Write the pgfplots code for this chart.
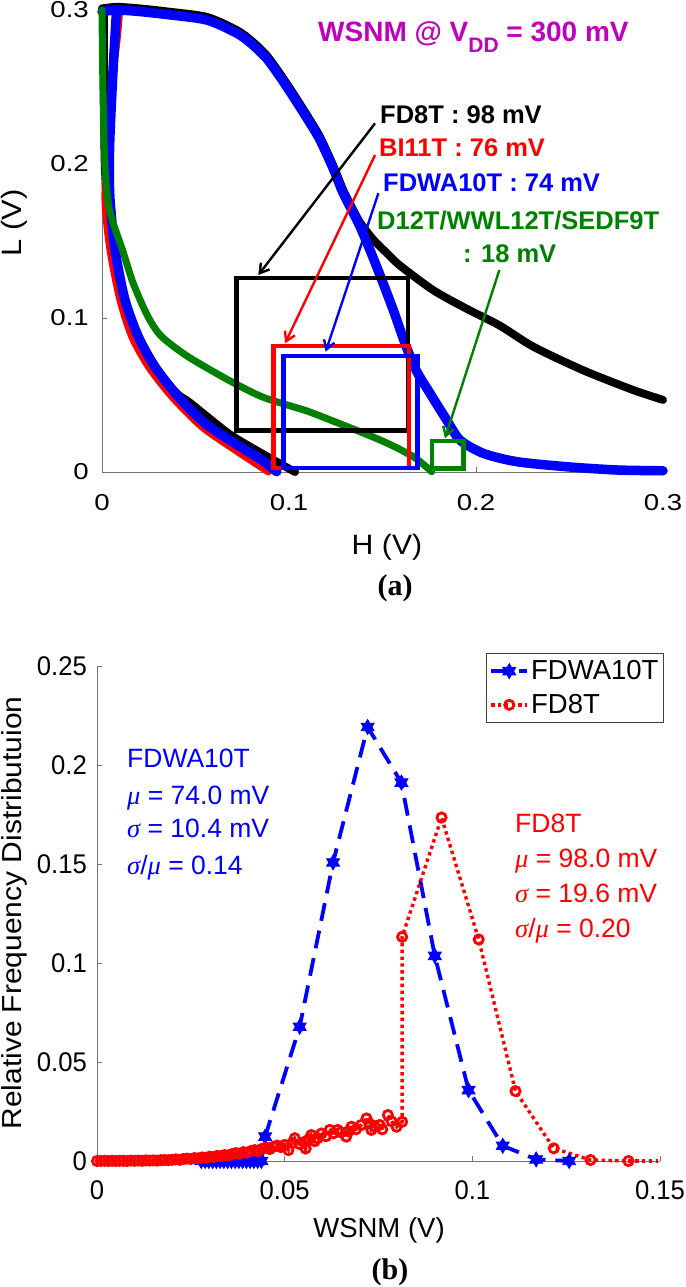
\documentclass[border=0pt]{standalone}
\usepackage{fontspec}
\setmainfont{Liberation Sans}
\newfontfamily\timesfont{Liberation Serif}
\usepackage{graphicx}
\usepackage{pgfplots}
\pgfplotsset{compat=1.18}
\usetikzlibrary{arrows.meta}

\definecolor{mgreen}{rgb}{0,0.5,0}
\definecolor{mmag}{rgb}{0.75,0,0.75}
\definecolor{axgray}{gray}{0.45}
\newcommand{\fs}[1]{\fontsize{#1}{#1}\selectfont}
\newcommand{\gk}[1]{{\timesfont\itshape #1}}

\pgfdeclareplotmark{hexagram}{%
  \pgfpathmoveto{\pgfpointpolar{90}{\pgfplotmarksize}}%
  \pgfpathlineto{\pgfpointpolar{210}{\pgfplotmarksize}}%
  \pgfpathlineto{\pgfpointpolar{330}{\pgfplotmarksize}}%
  \pgfpathclose
  \pgfpathmoveto{\pgfpointpolar{270}{\pgfplotmarksize}}%
  \pgfpathlineto{\pgfpointpolar{30}{\pgfplotmarksize}}%
  \pgfpathlineto{\pgfpointpolar{150}{\pgfplotmarksize}}%
  \pgfpathclose
  \pgfusepathqfillstroke
}

\begin{document}
\begin{tikzpicture}
\useasboundingbox (0pt,0pt) rectangle (685pt,1287pt);

% ---------------- (a) ----------------
\begin{axis}[
  at={(102pt,815pt)}, anchor=south west, scale only axis,
  width=561pt, height=462pt,
  xmin=0, xmax=0.3, ymin=0, ymax=0.3,
  axis x line*=bottom, axis y line*=left,
  axis line style={axgray, line width=0.9pt},
  tick align=inside, major tick length=5pt,
  tick style={axgray, line width=0.9pt},
  xtick={0,0.1,0.2,0.3}, ytick={0,0.1,0.2,0.3},
  scaled ticks=false,
  /pgf/number format/fixed, /pgf/number format/precision=2,
  /pgf/number format/assume math mode=true,
  ticklabel style={font=\fs{23}, inner sep=0pt},
  xticklabel={\scalebox{1.2}[1]{\pgfmathprintnumber{\tick}}},
  yticklabel={\scalebox{1.2}[1]{\pgfmathprintnumber{\tick}}},
  xticklabel style={anchor=north, yshift=-22pt},
  yticklabel style={anchor=east, xshift=-13pt},
  clip=false,
  every axis plot/.append style={line join=round, line cap=round},
]
% black FD8T
\addplot[black, line width=8pt, smooth, tension=0.45] coordinates {
(0.000,0.301) (0.008,0.302) (0.020,0.301) (0.035,0.299) (0.056,0.2955) (0.072,0.287)
(0.080,0.280) (0.088,0.2706) (0.095,0.259) (0.1023,0.2457) (0.110,0.231) (0.1166,0.2176)
(0.124,0.198) (0.129,0.183) (0.134,0.171) (0.138,0.162) (0.145,0.151) (0.152,0.1425)
(0.1594,0.134) (0.1772,0.118) (0.195,0.106) (0.2128,0.095) (0.2306,0.0814)
(0.2574,0.066) (0.2841,0.0532) (0.300,0.0468)};
\addplot[black, line width=8pt, smooth, tension=0.45] coordinates {
(0.001,0.300) (0.001,0.25) (0.0015,0.20) (0.003,0.17) (0.006,0.14) (0.011,0.11)
(0.018,0.088) (0.028,0.068) (0.040,0.051) (0.047,0.045) (0.0676,0.0251) (0.0854,0.0121) (0.1032,0.0)};
% red BI11T
\addplot[red, line width=7pt, smooth, tension=0.45] coordinates {
(0.0095,0.300) (0.008,0.28) (0.005,0.25) (0.003,0.22) (0.0016,0.1766) (0.0043,0.144)
(0.0096,0.1117) (0.0159,0.0879) (0.0248,0.0684) (0.0373,0.0489) (0.0533,0.0294)
(0.0711,0.0143) (0.089,0.0)};
% blue FDWA10T
\addplot[blue, line width=9.5pt, smooth, tension=0.45] coordinates {
(0.000,0.299) (0.008,0.300) (0.020,0.299) (0.035,0.297) (0.056,0.2935) (0.072,0.285)
(0.080,0.278) (0.088,0.2686) (0.095,0.257) (0.1023,0.2437) (0.110,0.229) (0.1166,0.2156)
(0.124,0.196) (0.129,0.181) (0.138,0.1593) (0.1469,0.1333) (0.1558,0.105) (0.162,0.0836)
(0.168,0.066) (0.1754,0.0511) (0.1843,0.0338) (0.1914,0.0208) (0.2039,0.0121)
(0.2218,0.0067) (0.2485,0.0034) (0.2752,0.0013) (0.300,0.0008)};
\addplot[blue, line width=9.5pt, smooth, tension=0.45] coordinates {
(0.0078,0.300) (0.006,0.263) (0.0043,0.22) (0.0039,0.198) (0.0043,0.1766) (0.007,0.144)
(0.0123,0.1117) (0.0194,0.0879) (0.0283,0.0684) (0.0408,0.0489) (0.0551,0.0316)
(0.0711,0.0186) (0.0854,0.0078) (0.0934,0.0002)};
% green D12T/WWL12T/SEDF9T
\addplot[mgreen, line width=7pt, smooth, tension=0.45] coordinates {
(0.000,0.300) (0.0005,0.25) (0.0015,0.20) (0.004,0.17) (0.011,0.144) (0.0167,0.1225)
(0.0246,0.1008) (0.0319,0.0879) (0.046,0.0749) (0.0676,0.0597) (0.0854,0.0489)
(0.1032,0.042) (0.113,0.0381) (0.1487,0.0208) (0.1665,0.0099) (0.1763,0.0002)};
% boxes
\addplot[black, line width=4.5pt, line join=miter, line cap=butt] coordinates {(0.072,0.027) (0.1636,0.027) (0.1636,0.126) (0.072,0.126) (0.072,0.027)} -- cycle;
\addplot[red, line width=4.5pt, line join=miter, line cap=butt] coordinates {(0.0916,0.0026) (0.1643,0.0026) (0.1643,0.0818) (0.0916,0.0818) (0.0916,0.0026)} -- cycle;
\addplot[blue, line width=4.5pt, line join=miter, line cap=butt] coordinates {(0.097,0.0026) (0.1686,0.0026) (0.1686,0.0753) (0.097,0.0753) (0.097,0.0026)} -- cycle;
\addplot[mgreen, line width=4.5pt, line join=miter, line cap=butt] coordinates {(0.1766,0.0024) (0.1932,0.0024) (0.1932,0.020) (0.1766,0.020) (0.1766,0.0024)} -- cycle;
% arrows
\addplot[black, line width=2.4pt, line cap=butt, -{Straight Barb[length=9pt,width=11pt]}] coordinates {(0.146,0.2264) (0.0836,0.1279)};
\addplot[red, line width=2.4pt, line cap=butt, -{Straight Barb[length=9pt,width=11pt]}] coordinates {(0.146,0.2058) (0.0979,0.0836)};
\addplot[blue, line width=2.4pt, line cap=butt, -{Straight Barb[length=9pt,width=11pt]}] coordinates {(0.1478,0.181) (0.1196,0.0781)};
\addplot[mgreen, line width=2.4pt, line cap=butt, -{Straight Barb[length=9pt,width=11pt]}] coordinates {(0.2125,0.1312) (0.1834,0.0219)};
\end{axis}

% texts (a)
\node[anchor=base west, inner sep=0pt, text=mmag, font=\bfseries\fs{28}] at (318pt,1245pt) {WSNM @ V\raisebox{-11pt}{\fs{21}DD} = 300 mV};
\node[anchor=base west, inner sep=0pt, text=black, font=\bfseries\fs{25.5}] at (380pt,1163pt) {FD8T : 98 mV};
\node[anchor=base west, inner sep=0pt, text=red, font=\bfseries\fs{25.5}] at (379pt,1130pt) {BI11T : 76 mV};
\node[anchor=base west, inner sep=0pt, text=blue, font=\bfseries\fs{25.5}] at (383pt,1095pt) {FDWA10T : 74 mV};
\node[anchor=base west, inner sep=0pt, text=mgreen, font=\bfseries\fs{25.5}] at (377pt,1057pt) {D12T/WWL12T/SEDF9T};
\node[anchor=base west, inner sep=0pt, text=mgreen, font=\bfseries\fs{25.5}] at (463pt,1024pt) {: 18 mV};
\node[inner sep=0pt, font=\fs{28}] at (387pt,740pt) {\scalebox{1.08}[1]{H (V)}};
\node[inner sep=0pt, font=\fs{28}, rotate=90] at (14pt,1064pt) {\scalebox{1.1}[1]{L (V)}};
\node[inner sep=0pt, font=\timesfont\bfseries\fs{30}] at (395pt,699pt) {(a)};

% ---------------- (b) ----------------
\begin{axis}[
  at={(97pt,126pt)}, anchor=south west, scale only axis,
  width=563pt, height=495pt,
  xmin=0, xmax=0.15, ymin=0, ymax=0.25,
  axis x line*=bottom, axis y line*=left,
  axis line style={axgray, line width=0.9pt},
  tick align=inside, major tick length=5pt,
  tick style={axgray, line width=0.9pt},
  xtick={0,0.05,0.1,0.15}, ytick={0,0.05,0.1,0.15,0.2,0.25},
  scaled ticks=false,
  /pgf/number format/fixed, /pgf/number format/precision=2,
  /pgf/number format/assume math mode=true,
  ticklabel style={font=\fs{27}, inner sep=0pt},
  xticklabel={\scalebox{0.95}[1]{\pgfmathprintnumber{\tick}}},
  yticklabel={\scalebox{0.95}[1]{\pgfmathprintnumber{\tick}}},
  xticklabel style={anchor=north, yshift=-19pt},
  yticklabel style={anchor=east, xshift=-10pt},
  clip=false,
  legend style={at={(1.007,1.0256)}, anchor=north east, draw=black!75, line width=0.9pt,
    font=\fs{27.5}, inner xsep=3pt, inner ysep=5pt, row sep=9pt, cells={anchor=west}},
  legend cell align=left,
  legend image code/.code={\draw[#1, mark repeat=2, mark phase=2] plot coordinates {(0pt,0pt) (18pt,0pt) (36pt,0pt)};},
]
\addplot[blue, line width=3.8pt, dash pattern=on 18pt off 10pt, mark=hexagram, mark size=7.5pt,
  mark options={solid, fill=blue, line width=0.8pt}] coordinates {
(0.0278,0) (0.0288,0) (0.0298,0) (0.0308,0) (0.0318,0) (0.0328,0) (0.0338,0) (0.0348,0)
(0.0358,0) (0.0368,0) (0.0378,0) (0.0388,0) (0.0398,0) (0.0408,0) (0.0418,0) (0.0428,0) (0.0438,0)
(0.0448,0.0123) (0.0540,0.0678) (0.0629,0.1508) (0.0721,0.2192) (0.0811,0.1911)
(0.0900,0.1036) (0.0990,0.0358) (0.1081,0.0077) (0.1170,0.0008) (0.1258,0.0)};
\addlegendentry{FDWA10T}
\addplot[red, line width=3.4pt, dash pattern=on 3.4pt off 3.4pt, forget plot] coordinates {(0.1416,0) (0.1495,0)};
\addplot[red, line width=3.4pt, dash pattern=on 3.4pt off 3.4pt, mark=o, mark size=4.6pt,
  mark options={solid, fill=white, line width=2.8pt}] coordinates {
(0.000,0.0000) (0.001,0.0000) (0.002,0.0001) (0.003,0.0000) (0.004,0.0001) (0.005,0.0000)
(0.006,0.0001) (0.007,0.0001) (0.008,0.0000) (0.009,0.0002) (0.010,0.0001) (0.011,0.0002)
(0.012,0.0001) (0.013,0.0003) (0.014,0.0002) (0.015,0.0003) (0.016,0.0002) (0.017,0.0004)
(0.018,0.0005) (0.019,0.0004) (0.020,0.0006) (0.021,0.0008) (0.022,0.0006) (0.023,0.0010)
(0.024,0.0012) (0.025,0.0010) (0.026,0.0015) (0.027,0.0013) (0.028,0.0018) (0.029,0.0016)
(0.030,0.0022) (0.031,0.0020) (0.032,0.0026) (0.033,0.0024) (0.034,0.0030) (0.035,0.0028)
(0.036,0.0035) (0.037,0.0040) (0.038,0.0036) (0.039,0.0045) (0.040,0.0042) (0.041,0.0050)
(0.042,0.0055) (0.043,0.0050) (0.044,0.0062) (0.045,0.0068) (0.046,0.0060) (0.047,0.0072)
(0.048,0.0078) (0.049,0.0070) (0.050,0.0081) (0.051,0.0055) (0.052,0.0090) (0.0527,0.0115)
(0.054,0.0085) (0.0553,0.0097) (0.0556,0.0063) (0.0565,0.0110) (0.0571,0.0131) (0.058,0.0100)
(0.0588,0.0115) (0.0598,0.0139) (0.061,0.0125) (0.062,0.0157) (0.063,0.0140) (0.0641,0.0157)
(0.065,0.0145) (0.0664,0.0123) (0.067,0.0150) (0.0678,0.0173) (0.069,0.0160) (0.0704,0.0182)
(0.0718,0.0215) (0.0725,0.0190) (0.0731,0.0157) (0.074,0.0175) (0.0753,0.0182) (0.076,0.0160)
(0.0775,0.0232) (0.0785,0.0200) (0.0798,0.0173) (0.0813,0.0198)
(0.0813,0.1132) (0.0918,0.1735) (0.1017,0.1119) (0.1115,0.0353) (0.1217,0.0064)
(0.1315,0.0005) (0.1416,0.0)};
\addlegendentry{FD8T}
\end{axis}

% texts (b)
\node[anchor=base west, inner sep=0pt, text=blue, font=\fs{26.5}] at (127pt,519pt) {FDWA10T};
\node[anchor=base west, inner sep=0pt, text=blue, font=\fs{26.5}] at (127pt,482pt) {\gk{μ} = 74.0 mV};
\node[anchor=base west, inner sep=0pt, text=blue, font=\fs{26.5}] at (127pt,449pt) {\gk{σ} = 10.4 mV};
\node[anchor=base west, inner sep=0pt, text=blue, font=\fs{26.5}] at (127pt,412pt) {\gk{σ}/\gk{μ} = 0.14};
\node[anchor=base west, inner sep=0pt, text=red, font=\fs{26.5}] at (515pt,454pt) {FD8T};
\node[anchor=base west, inner sep=0pt, text=red, font=\fs{26.5}] at (515pt,419pt) {\gk{μ} = 98.0 mV};
\node[anchor=base west, inner sep=0pt, text=red, font=\fs{26.5}] at (515pt,384pt) {\gk{σ} = 19.6 mV};
\node[anchor=base west, inner sep=0pt, text=red, font=\fs{26.5}] at (515pt,349pt) {\gk{σ}/\gk{μ} = 0.20};
\node[inner sep=0pt, font=\fs{27.5}] at (379pt,57pt) {WSNM (V)};
\node[inner sep=0pt, font=\fs{27.5}, rotate=90] at (14pt,374pt) {\scalebox{1.09}[1]{Relative Frequency Distributuion}};
\node[inner sep=0pt, font=\timesfont\bfseries\fs{30}] at (390pt,15pt) {(b)};
\end{tikzpicture}
\end{document}
